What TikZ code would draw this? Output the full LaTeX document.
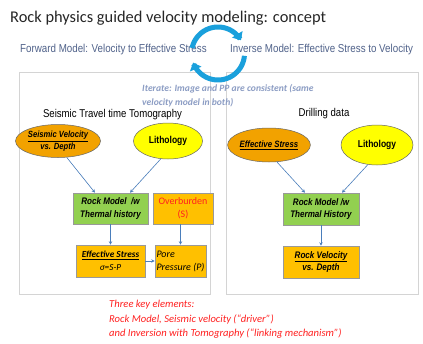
\documentclass[tikz,border=0pt]{standalone}
\usepackage{fontspec}
\setmainfont{Carlito}
\newfontfamily\arialn[FakeStretch=0.85]{Liberation Sans}
\usetikzlibrary{arrows.meta,calc,shapes.geometric}
\definecolor{ttl}{HTML}{262626}
\definecolor{hdr}{HTML}{50628A}
\definecolor{itr}{HTML}{8C9DC4}
\definecolor{panel}{HTML}{D4D4D4}
\definecolor{orgE}{HTML}{F2A200}
\definecolor{orgB}{HTML}{FFC000}
\definecolor{yel}{HTML}{FFFF00}
\definecolor{grn}{HTML}{92D050}
\definecolor{arr}{HTML}{4A7EBB}
\definecolor{cyc}{HTML}{1AA0DC}
\definecolor{redt}{HTML}{FF2020}
\tikzset{
  ell/.style={ellipse, draw=gray!80!black, line width=0.5pt, inner sep=0pt, align=center},
  bx/.style={rectangle, draw=gray!80, line width=0.6pt, inner sep=0pt, align=center},
  conn/.style={draw=arr, line width=0.6pt, -{Stealth[length=3.5pt,width=3.5pt]}},
  cycarrow/.style={draw=cyc, line width=5pt, -{Triangle[length=7pt,width=12pt]}},
  hdrtxt/.style={font=\arialn\fontsize{11.5}{13}\selectfont, text=hdr, inner sep=0pt, anchor=west},
}
\begin{document}
\begin{tikzpicture}[x=1pt,y=-1pt]
\path[use as bounding box, fill=white] (0,0) rectangle (423,343);
% title
\node[anchor=west, inner sep=0pt, text=ttl, font=\fontsize{16.4}{20}\selectfont] (title) at (10,18) {Rock physics guided velocity modeling: concept};
% headers
\node[hdrtxt] (fwd) at (20,50) {Forward Model: Velocity to Effective Stress};
\node[hdrtxt] (inv) at (230,50) {Inverse Model: Effective Stress to Velocity};
% panels
\draw[panel, line width=0.8pt, fill=white] (19,72) rectangle (210,294);
\draw[panel, line width=0.8pt, fill=white] (226,72) rectangle (418,294);
% cycle arrows
\draw[cycarrow] plot[domain=192:330, samples=40] ({218+26.5*cos(\x)},{53.5+26.5*sin(\x)});
\draw[cycarrow] plot[domain=5:160, samples=40] ({218+26.5*cos(\x)},{53.5+26.5*sin(\x)});
% iterate text
\node[anchor=north west, inner sep=0pt, align=left, text=itr, font=\fontsize{9.6}{14}\selectfont\bfseries\itshape] (iter) at (142,84.5) {Iterate: Image and PP are consistent (same\\velocity model in both)};
% panel titles
\node[anchor=center, inner sep=0pt, font=\arialn\fontsize{11.3}{13}\selectfont] (tomo) at (112.5,115) {Seismic Travel time Tomography};
\node[anchor=center, inner sep=0pt, font=\arialn\fontsize{11.3}{13}\selectfont] (drill) at (324,114) {Drilling data};
% left panel
\node[ell, fill=orgE, minimum width=72pt, minimum height=33pt, font=\arialn\fontsize{9}{11.5}\selectfont\bfseries\itshape] (sv) at (58,141) {\underline{Seismic Velocity}\\vs. Depth};
\node[ell, fill=yel, minimum width=69pt, minimum height=36pt, font=\arialn\fontsize{10}{12}\selectfont\bfseries] (litL) at (168,141) {Lithology};
\node[bx, fill=grn, minimum width=75pt, minimum height=31pt, font=\arialn\fontsize{9.5}{12.5}\selectfont\bfseries\itshape] (rmL) at (110.5,208.5) {Rock Model \ /w\\Thermal history};
\node[bx, fill=orgB, minimum width=60pt, minimum height=31pt, text=redt, font=\fontsize{10}{13}\selectfont] (obL) at (183,208.5) {Overburden\\(S)};
\node[bx, fill=orgB, minimum width=69pt, minimum height=32pt, font=\fontsize{9.3}{13}\selectfont\itshape] (esL) at (110.5,261) {\textbf{\underline{Effective Stress}}\\σ=S-P};
\node[bx, fill=orgB, minimum width=51pt, minimum height=32pt, align=left, font=\fontsize{10}{13}\selectfont\itshape] (ppL) at (180.5,261) {Pore\\Pressure (P)};
% right panel
\node[ell, fill=orgE, minimum width=72pt, minimum height=34pt, font=\arialn\fontsize{9.2}{11}\selectfont\bfseries\itshape] (esR) at (269,145) {\underline{Effective Stress}};
\node[ell, fill=yel, minimum width=72pt, minimum height=40pt, font=\arialn\fontsize{10}{12}\selectfont\bfseries] (litR) at (377,145) {Lithology};
\node[bx, fill=grn, minimum width=76pt, minimum height=32pt, font=\arialn\fontsize{9.5}{12.5}\selectfont\bfseries\itshape] (rmR) at (321,209) {Rock Model /w\\Thermal History};
\node[bx, fill=orgB, minimum width=76pt, minimum height=32pt, font=\arialn\fontsize{9.5}{12.5}\selectfont\bfseries\itshape] (rvR) at (321,262) {\underline{Rock Velocity}\\vs. Depth};
% connectors
\draw[conn] (sv.-62) -- ($(rmL.north)+(-15.5,0)$);
\draw[conn] (litL.-112) -- ($(rmL.north)+(19.5,0)$);
\draw[conn] (rmL.south) -- (rmL.south |- esL.north);
\draw[conn] (ppL.north |- obL.south) -- (ppL.north);
\draw[conn] (esL.east) -- (ppL.west);
\draw[conn] (esR.-65) -- ($(rmR.north)+(-16,0)$);
\draw[conn] (litR.-115) -- ($(rmR.north)+(21,0)$);
\draw[conn] (rmR.south) -- (rvR.north);
% bottom text
\node[anchor=north west, inner sep=0pt, align=left, text=redt, font=\fontsize{10.6}{14.5}\selectfont\itshape] (keys) at (109,300) {Three key elements:\\Rock Model, Seismic velocity (“driver”)\\and Inversion with Tomography (“linking mechanism”)};
\end{tikzpicture}
\end{document}
